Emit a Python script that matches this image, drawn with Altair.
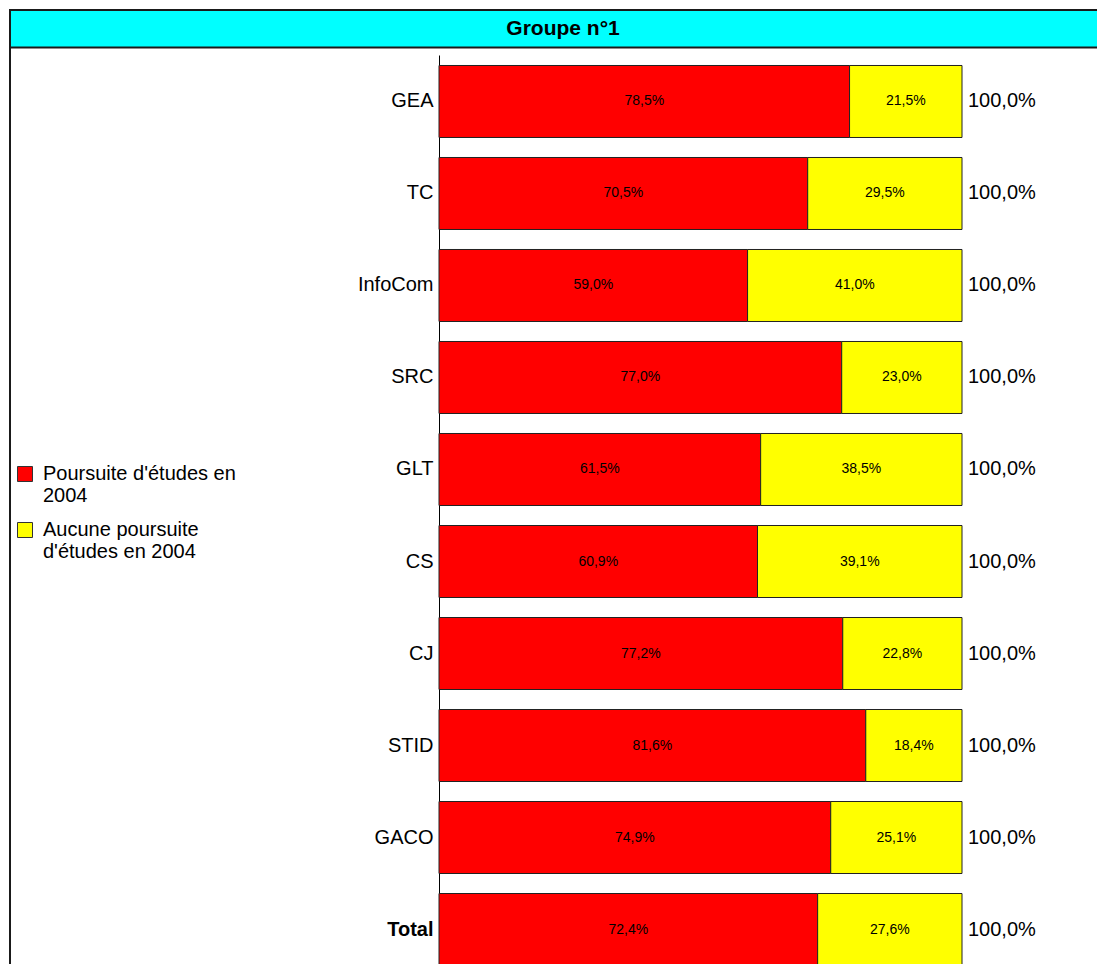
import json
import altair as alt
import pandas as pd

FILIERES = ["GEA", "TC", "InfoCom", "SRC", "GLT", "CS", "CJ", "STID", "GACO", "Total"]
POURSUITE = [78.5, 70.5, 59.0, 77.0, 61.5, 60.9, 77.2, 81.6, 74.9, 72.4]
AUCUNE = [21.5, 29.5, 41.0, 23.0, 38.5, 39.1, 22.8, 18.4, 25.1, 27.6]
SERIES = ["Poursuite d'études en 2004", "Aucune poursuite d'études en 2004"]
LEGEND_LINES = [["Poursuite d'études en", "2004"], ["Aucune poursuite", "d'études en 2004"]]
COLORS = ["#FF0000", "#FFFF00"]
TITLE = "Groupe n°1"

rows = []
for f, a, b in zip(FILIERES, POURSUITE, AUCUNE):
    rows.append({"filiere": f, "serie": SERIES[0], "ordre": 0, "valeur": a})
    rows.append({"filiere": f, "serie": SERIES[1], "ordre": 1, "valeur": b})
df = pd.DataFrame(rows)

FONT = "Liberation Sans"
label_fmt = "replace(format(datum.{f}, '.1f'), '.', ',') + '%'"

legend_expr = (
    f"datum.label == {json.dumps(SERIES[0], ensure_ascii=False)} ? "
    f"{json.dumps(LEGEND_LINES[0], ensure_ascii=False)} : "
    f"{json.dumps(LEGEND_LINES[1], ensure_ascii=False)}"
)

y_main = alt.Y(
    "filiere:N",
    sort=FILIERES,
    scale=alt.Scale(range=[0, 921], paddingInner=0.2174, paddingOuter=0.114),
    axis=alt.Axis(
        title=None, ticks=False, tickSize=0, labelPadding=6, labelFontSize=20,
        labelFont=FONT, labelColor="#000", domainColor="#000", domainWidth=1,
        grid=False,
        labelFontWeight={"condition": {"test": "datum.value == 'Total'", "value": "bold"}, "value": "normal"},
    ),
)
y_other = alt.Y("filiere:N", sort=FILIERES)
x_scale = alt.Scale(domain=[0, 100])

base = alt.Chart(df).transform_stack(
    stack="valeur", groupby=["filiere"], as_=["x0", "x1"],
    sort=[alt.SortField("ordre", order="ascending")],
)

bars = base.mark_bar(stroke="#222", strokeWidth=1).encode(
    y=y_main,
    x=alt.X("x0:Q", scale=x_scale, axis=None),
    x2="x1:Q",
    color=alt.Color(
        "serie:N",
        scale=alt.Scale(domain=SERIES, range=COLORS),
        legend=alt.Legend(
            title=None, orient="none", legendX=-424, legendY=409,
            symbolType="square", symbolSize=225, symbolStrokeColor="#333",
            symbolStrokeWidth=1, symbolOpacity=1, labelFontSize=20, labelFont=FONT,
            labelColor="#000", labelOffset=8, rowPadding=14, padding=0,
            labelLimit=400, labelExpr=legend_expr,
        ),
    ),
)

inner = base.transform_calculate(
    xm="(datum.x0 + datum.x1) / 2", lab=label_fmt.format(f="valeur")
).mark_text(fontSize=14, font=FONT, color="#000", align="center", baseline="middle").encode(
    y=y_other, x=alt.X("xm:Q", scale=x_scale, axis=None), text="lab:N"
)

totals = alt.Chart(df).transform_aggregate(
    total="sum(valeur)", groupby=["filiere"]
).transform_calculate(lab=label_fmt.format(f="total")).mark_text(
    fontSize=20, font=FONT, color="#000", align="left", baseline="middle", dx=6
).encode(y=y_other, x=alt.X("total:Q", scale=x_scale, axis=None), text="lab:N")

deco = pd.DataFrame({"t": [TITLE]})
frame = alt.Chart(deco).mark_rect(fillOpacity=0, stroke="#1a1a1a", strokeWidth=2).encode(
    x=alt.value(-429), x2=alt.value(700), y=alt.value(-45), y2=alt.value(960)
)
title_bar = alt.Chart(deco).mark_rect(fill="#00FFFF", stroke="#1a1a1a", strokeWidth=2).encode(
    x=alt.value(-429), x2=alt.value(700), y=alt.value(-45), y2=alt.value(-7.5)
)
title_txt = alt.Chart(deco).mark_text(
    fontSize=21, fontWeight="bold", font=FONT, color="#000", align="center", baseline="middle"
).encode(x=alt.value(124), y=alt.value(-26), text="t:N")

chart = alt.layer(frame, title_bar, title_txt, bars, inner, totals).properties(
    width=523, height=909,
    autosize=alt.AutoSizeParams(type="none"),
    padding={"left": 431, "top": 47, "right": 135, "bottom": 0},
    background="white",
).configure_view(strokeWidth=0)

chart.save("out.html", embed_options={"renderer": "svg", "actions": False})
